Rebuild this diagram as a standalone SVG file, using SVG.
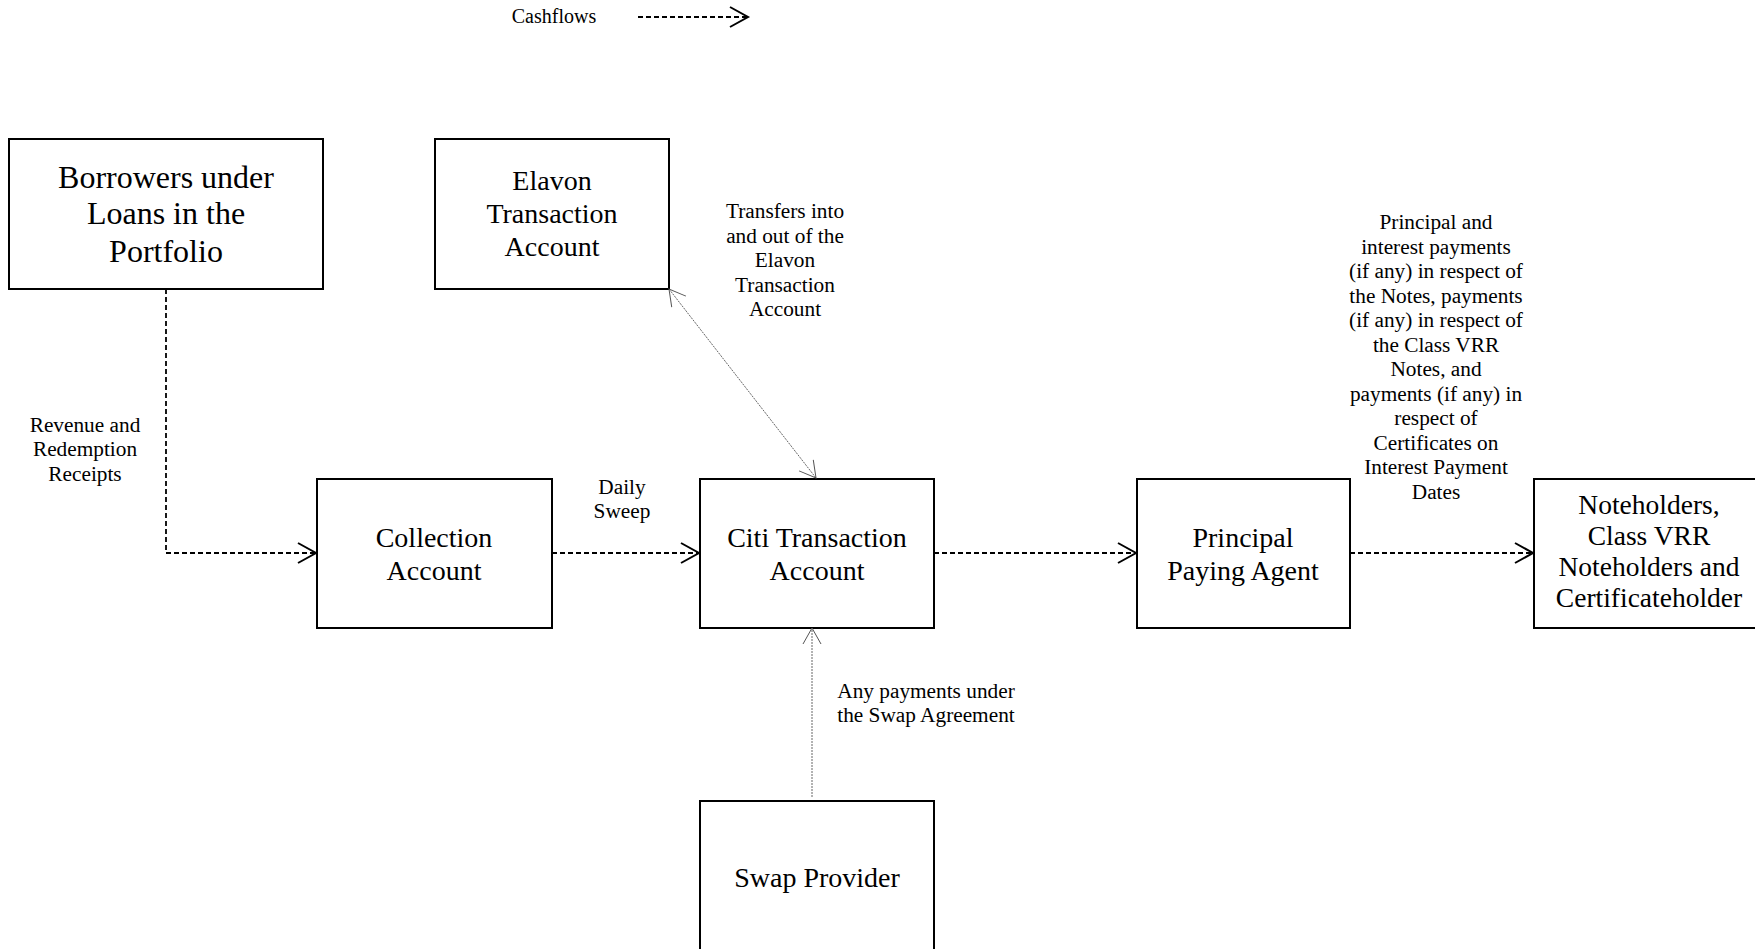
<svg xmlns="http://www.w3.org/2000/svg" width="1755" height="949" viewBox="0 0 1755 949">
<style>
.box{fill:#fff;stroke:#000;stroke-width:2}
.t{font-family:"Liberation Serif","Times New Roman",serif;fill:#000;text-anchor:middle}
.big{font-size:28px}
.big2{font-size:32px}
.sm{font-size:21.3px}
.dash{fill:none;stroke:#000;stroke-width:1.8;stroke-dasharray:5 3}
.thin{fill:none;stroke:#666;stroke-width:1;stroke-dasharray:2 1}
</style>
<defs>
<marker id="ah" markerUnits="userSpaceOnUse" markerWidth="24" markerHeight="24" viewBox="0 0 24 24" refX="20" refY="12" orient="auto">
<path d="M2,2 L20,12 L2,22" fill="none" stroke="#000" stroke-width="2"/>
</marker>
<marker id="ahThin" markerUnits="userSpaceOnUse" markerWidth="24" markerHeight="24" viewBox="0 0 24 24" refX="18" refY="12" orient="auto-start-reverse">
<path d="M2,3 L18,12 L2,21" fill="none" stroke="#555" stroke-width="1"/>
</marker>
</defs>
<rect width="1755" height="949" fill="#fff"/>
<g id="legend">
<text class="t" style="font-size:20px" x="554" y="23">Cashflows</text>
<line class="dash" x1="638" y1="17" x2="748" y2="17" marker-end="url(#ah)"/>
</g>
<g id="borrowers">
<rect class="box" x="9" y="139" width="314" height="150"/>
<text class="t big2" x="166" y="188">Borrowers under</text>
<text class="t big2" x="166" y="224">Loans in the</text>
<text class="t big2" x="166" y="262">Portfolio</text>
</g>
<g id="elavon">
<rect class="box" x="435" y="139" width="234" height="150"/>
<text class="t big" x="552" y="190">Elavon</text>
<text class="t big" x="552" y="223">Transaction</text>
<text class="t big" x="552" y="256">Account</text>
</g>
<g id="collection">
<rect class="box" x="317" y="479" width="235" height="149"/>
<text class="t big" x="434" y="547">Collection</text>
<text class="t big" x="434" y="580">Account</text>
</g>
<g id="citi">
<rect class="box" x="700" y="479" width="234" height="149"/>
<text class="t big" x="817" y="547">Citi Transaction</text>
<text class="t big" x="817" y="580">Account</text>
</g>
<g id="paying-agent">
<rect class="box" x="1137" y="479" width="213" height="149"/>
<text class="t big" x="1243" y="547">Principal</text>
<text class="t big" x="1243" y="580">Paying Agent</text>
</g>
<g id="noteholders">
<rect class="box" x="1534" y="479" width="232" height="149"/>
<text class="t" style="font-size:27.5px" x="1649" y="514">Noteholders,</text>
<text class="t" style="font-size:27.5px" x="1649" y="545">Class VRR</text>
<text class="t" style="font-size:27.5px" x="1649" y="576">Noteholders and</text>
<text class="t" style="font-size:27.5px" x="1649" y="607">Certificateholder</text>
</g>
<g id="swap">
<rect class="box" x="700" y="801" width="234" height="160"/>
<text class="t big" x="817" y="887">Swap Provider</text>
</g>
<g id="connectors">
<path class="dash" d="M166,289 V553 H316" marker-end="url(#ah)"/>
<line class="dash" x1="552" y1="553" x2="699" y2="553" marker-end="url(#ah)"/>
<line class="dash" x1="934" y1="553" x2="1136" y2="553" marker-end="url(#ah)"/>
<line class="dash" x1="1350" y1="553" x2="1533" y2="553" marker-end="url(#ah)"/>
<line class="thin" x1="669" y1="289" x2="816" y2="478" marker-start="url(#ahThin)" marker-end="url(#ahThin)"/>
<line class="thin" x1="812" y1="797" x2="812" y2="628" marker-end="url(#ahThin)"/>
<text class="t sm" x="85" y="432">Revenue and</text>
<text class="t sm" x="85" y="456">Redemption</text>
<text class="t sm" x="85" y="481">Receipts</text>
<text class="t sm" x="622" y="494">Daily</text>
<text class="t sm" x="622" y="518">Sweep</text>
<text class="t sm" x="785" y="218">Transfers into</text>
<text class="t sm" x="785" y="243">and out of the</text>
<text class="t sm" x="785" y="267">Elavon</text>
<text class="t sm" x="785" y="292">Transaction</text>
<text class="t sm" x="785" y="316">Account</text>
<text class="t sm" x="926" y="698">Any payments under</text>
<text class="t sm" x="926" y="722">the Swap Agreement</text>
<g id="pay-label">
<text class="t sm" x="1436" y="229">Principal and</text>
<text class="t sm" x="1436" y="253.5">interest payments</text>
<text class="t sm" x="1436" y="278">(if any) in respect of</text>
<text class="t sm" x="1436" y="302.5">the Notes, payments</text>
<text class="t sm" x="1436" y="327">(if any) in respect of</text>
<text class="t sm" x="1436" y="351.5">the Class VRR</text>
<text class="t sm" x="1436" y="376">Notes, and</text>
<text class="t sm" x="1436" y="400.5">payments (if any) in</text>
<text class="t sm" x="1436" y="425">respect of</text>
<text class="t sm" x="1436" y="449.5">Certificates on</text>
<text class="t sm" x="1436" y="474">Interest Payment</text>
<text class="t sm" x="1436" y="498.5">Dates</text>
</g>
</g>
</svg>
